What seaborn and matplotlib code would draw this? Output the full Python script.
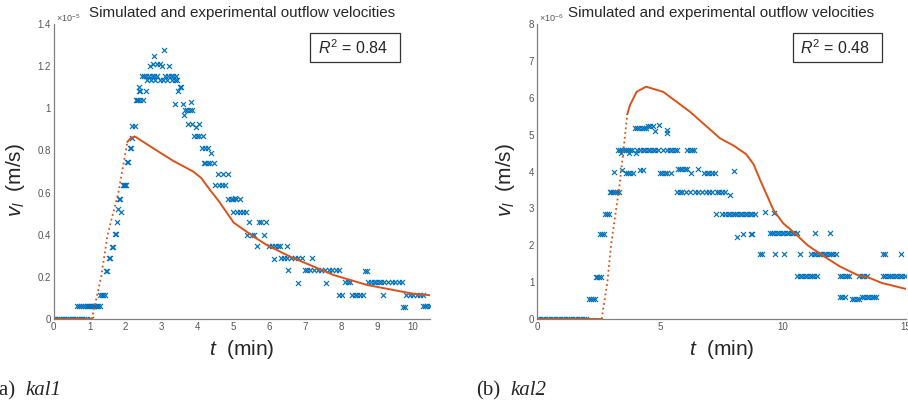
import numpy as np
import pandas as pd
import seaborn as sns
import matplotlib.pyplot as plt
from matplotlib.patches import Rectangle
from matplotlib.ticker import FuncFormatter

# ---- kal1 : measured outflow velocity (x 1e-5 m/s) ----
kal1_t = [0.0, 0.05, 0.1, 0.15, 0.2, 0.25, 0.3, 0.35, 0.4, 0.45, 0.5, 0.55, 0.6, 0.65, 0.7, 0.75, 0.8, 0.85, 0.9, 1.05,
          0.65, 0.7, 0.76, 0.82, 0.88, 0.92, 0.96, 1.0, 1.04, 1.08, 1.12, 1.16, 1.2, 1.24, 1.28,
          1.3, 1.34, 1.38, 1.42, 1.45, 1.48, 1.53, 1.56, 1.62, 1.64, 1.7, 1.73, 1.76, 1.79, 1.86, 1.83, 1.85,
          1.93, 1.96, 1.99, 2.01, 2.03, 2.06, 2.12, 2.14, 2.18, 2.19, 2.25,
          2.28, 2.31, 2.34, 2.4, 2.48, 2.38, 2.41, 2.58, 2.36,
          2.45, 2.5, 2.57, 2.65, 2.73, 2.8, 2.87, 3.1, 3.18, 3.25, 3.32, 3.4,
          2.6, 2.7, 2.82, 2.95, 3.05, 3.15, 3.3, 3.38, 3.43,
          2.68, 3.0, 3.22, 2.75, 2.88, 2.95, 2.8, 3.08,
          3.52, 3.55, 3.47, 3.38, 3.6, 3.82, 3.65, 3.7, 3.78, 3.85, 3.63,
          3.75, 3.85, 4.05, 3.95, 3.9, 3.98, 4.05, 4.15, 4.12, 4.2, 4.3, 4.38,
          4.17, 4.22, 4.3, 4.35, 4.45, 4.58, 4.7, 4.85, 4.5, 4.6, 4.68, 4.78,
          4.85, 4.92, 5.0, 5.08, 5.18, 5.05, 5.0, 5.1, 5.18, 5.26, 5.35,
          5.44, 5.7, 5.76, 5.9, 5.38, 5.52, 5.58, 5.84,
          5.66, 6.0, 6.08, 6.15, 6.25, 6.31, 6.5, 6.12,
          6.32, 6.4, 6.5, 6.6, 6.7, 6.8, 6.9, 7.19,
          6.52, 6.98, 7.05, 7.12, 7.25, 7.35, 7.45, 7.55, 7.65, 7.75, 7.85, 7.93,
          6.8, 7.57, 8.1, 8.18, 8.25,
          7.95, 8.02, 8.3, 8.38, 8.45, 8.52, 8.6, 9.15, 9.8, 9.9, 10.0, 10.1, 10.2, 10.28,
          8.65, 8.72, 8.75, 8.82, 8.9, 8.98, 9.05, 9.12, 9.2, 9.3, 9.4, 9.5, 9.6, 9.7,
          9.72, 9.78, 10.28, 10.34, 10.4, 10.46]
kal1_v = [0.0] * 20 + [0.06] * 15 + \
         [0.115, 0.115, 0.115, 0.115, 0.23, 0.23, 0.29, 0.29, 0.34, 0.34, 0.405, 0.405, 0.46, 0.52, 0.51, 0.57, 0.57,
          0.635, 0.635, 0.635, 0.635, 0.745, 0.745, 0.81, 0.81, 0.86, 0.915, 0.915,
          1.04, 1.04, 1.04, 1.04, 1.04, 1.08, 1.08, 1.08, 1.1] + \
         [1.155] * 12 + [1.135] * 9 + \
         [1.2, 1.2, 1.2, 1.21, 1.21, 1.21, 1.25, 1.275,
          1.1, 1.1, 1.08, 1.02, 1.02, 1.03, 0.99, 0.99, 0.99, 0.99, 0.97,
          0.925, 0.925, 0.925, 0.91, 0.87, 0.87, 0.87, 0.87, 0.81, 0.81, 0.81, 0.79,
          0.74, 0.74, 0.74, 0.74, 0.74, 0.69, 0.69, 0.69, 0.635, 0.635, 0.635, 0.635,
          0.57, 0.57, 0.57, 0.57, 0.57, 0.575, 0.51, 0.51, 0.51, 0.51, 0.51,
          0.46, 0.46, 0.46, 0.46, 0.40, 0.40, 0.40, 0.40,
          0.345, 0.345, 0.345, 0.345, 0.345, 0.345, 0.345, 0.285] + \
         [0.29] * 8 + [0.232] * 12 + \
         [0.17, 0.17, 0.175, 0.175, 0.175] + [0.115] * 14 + \
         [0.23, 0.23] + [0.175] * 12 + [0.055, 0.055, 0.06, 0.06, 0.06, 0.06]

# ---- kal1 : simulated (x 1e-5 m/s) ----
sim1_flat_t = [0.0, 1.06]
sim1_flat_v = [0.0, 0.0]
sim1_rise_t = [1.06, 1.32, 1.5, 1.8, 2.05]
sim1_rise_v = [0.0, 0.2, 0.4, 0.6, 0.84]
sim1_fall_t = [2.05, 2.15, 2.26, 2.77, 3.33, 3.88, 4.1, 4.36, 4.59, 5.01, 5.57, 5.94, 6.59, 7.8, 8.73, 10.0, 10.47]
sim1_fall_v = [0.84, 0.86, 0.866, 0.81, 0.75, 0.70, 0.67, 0.61, 0.56, 0.457, 0.39, 0.35, 0.295, 0.208, 0.161, 0.12, 0.113]

# ---- kal2 : measured outflow velocity (x 1e-6 m/s) ----
kal2_t = [0.0, 0.1, 0.2, 0.3, 0.4, 0.5, 0.6, 0.7, 0.8, 0.9, 1.0, 1.1, 1.2, 1.3, 1.4, 1.5, 1.6, 1.7, 1.8, 1.9, 2.0,
          2.1, 2.18, 2.26, 2.34, 2.38, 2.45, 2.52, 2.6, 2.58, 2.65, 2.72, 2.78, 2.85, 2.92,
          2.95, 3.02, 3.1, 3.18, 3.25, 3.32, 3.14,
          3.3, 3.38, 3.45, 3.55, 3.62, 3.7, 3.8, 3.85, 4.05, 4.2, 4.3, 4.4, 4.5, 4.6, 4.72, 4.8, 4.9, 5.12,
          5.3, 5.4, 5.5, 5.6, 5.7, 6.1, 6.2, 6.3, 6.4,
          3.4, 3.75, 4.02, 3.44, 4.2, 4.3,
          3.62, 3.7, 3.8, 3.9, 5.0, 5.1, 5.2, 5.3, 5.44, 6.27, 6.8, 6.9, 7.0, 7.1, 7.25,
          5.72, 5.8, 5.9, 6.0, 6.1, 6.55, 8.0,
          5.7, 5.8, 5.9, 6.05, 6.2, 6.42, 6.55, 6.7, 6.85, 7.0, 7.1, 7.3, 7.4, 7.5, 7.65, 7.84,
          3.98, 4.05, 4.15, 4.25, 4.35, 4.45, 4.52, 4.6, 4.7, 4.95, 4.8, 5.29, 5.3,
          7.26, 7.5, 7.65, 7.75, 7.85, 7.95, 8.05, 8.15, 8.25, 8.35, 8.45, 8.55, 8.65, 8.75, 8.85, 9.26, 9.63,
          8.15, 8.39, 8.69, 8.75,
          9.47, 9.55, 9.65, 9.75, 9.85, 9.95, 10.05, 10.15, 10.25, 10.35, 10.45, 10.55, 11.3, 11.9,
          9.05, 9.15, 9.67, 10.05, 10.68, 11.15, 11.25, 11.35, 11.45, 11.55, 11.65, 11.75, 11.85, 11.95, 12.05,
          12.15, 14.05, 14.15, 14.8,
          10.58, 10.68, 10.78, 10.88, 10.98, 11.08, 11.18, 11.28, 11.4, 12.3, 12.4, 12.5, 12.6, 12.7,
          13.1, 13.2, 13.3, 13.4, 14.05, 14.15, 14.25, 14.35, 14.45, 14.55, 14.65, 14.75, 14.85, 14.95,
          12.3, 12.4, 12.5, 13.2, 13.3, 13.4, 13.5, 13.6, 13.7, 13.8, 12.8, 12.9, 13.0, 13.1]
kal2_v = [0.0] * 21 + [0.55] * 4 + [1.15] * 4 + [2.3] * 3 + [2.85] * 3 + [3.45] * 6 + [3.98] + \
         [4.58] * 27 + [4.5, 4.5, 4.5, 4.03, 4.03, 4.03] + [3.95] * 15 + \
         [4.07] * 6 + [4.02] + [3.45] * 15 + [3.36] + \
         [5.17] * 6 + [5.23, 5.23, 5.23, 5.25, 5.1, 5.12, 5.05] + \
         [2.85] * 15 + [2.9, 2.88] + [2.22, 2.3, 2.3, 2.3] + \
         [2.32] * 14 + [1.75] * 19 + [1.16] * 28 + [0.6] * 10 + [0.54] * 4

# ---- kal2 : simulated (x 1e-6 m/s) ----
sim2_flat_t = [0.0, 2.63]
sim2_flat_v = [0.0, 0.0]
sim2_rise_t = [2.63, 2.86, 3.01, 3.2, 3.35, 3.5, 3.67]
sim2_rise_v = [0.0, 1.0, 2.0, 2.9, 3.6, 4.5, 5.55]
sim2_fall_t = [3.67, 3.78, 4.05, 4.43, 5.13, 6.22, 7.44, 8.0, 8.5, 8.8, 9.07, 9.61, 10.0, 10.49, 11.0, 11.64,
               12.3, 13.0, 13.5, 14.0, 15.03]
sim2_fall_v = [5.55, 5.8, 6.16, 6.3, 6.16, 5.62, 4.9, 4.7, 4.47, 4.2, 3.77, 2.96, 2.6, 2.32, 2.0, 1.71,
               1.43, 1.2, 1.12, 0.98, 0.81]

sns.set_style('white')
plt.rcParams['font.family'] = ['Liberation Sans', 'DejaVu Sans']
plt.rcParams['mathtext.fontset'] = 'custom'
plt.rcParams['mathtext.rm'] = 'Liberation Sans'
plt.rcParams['mathtext.it'] = 'Liberation Sans:italic'

blue = '#0072BD'
orange = '#D95319'
grey = '#808080'

fig = plt.figure(figsize=(9.08, 4.04), dpi=100)
ax1 = fig.add_axes([53.7 / 908, 85 / 404, 376.3 / 908, 295 / 404])
ax2 = fig.add_axes([537 / 908, 85 / 404, 369 / 908, 295 / 404])

panels = [
    (ax1, kal1_t, kal1_v, sim1_flat_t, sim1_flat_v, sim1_rise_t, sim1_rise_v, sim1_fall_t, sim1_fall_v,
     (0, 10.47), (0, 1.4), np.arange(0, 11, 1), np.arange(0, 1.41, 0.2), '5', '0.84', -0.071),
    (ax2, kal2_t, kal2_v, sim2_flat_t, sim2_flat_v, sim2_rise_t, sim2_rise_v, sim2_fall_t, sim2_fall_v,
     (0, 15), (0, 8), [0, 5, 10, 15], np.arange(0, 9, 1), '6', '0.48', -0.054),
]

for (ax, mt, mv, ft, fv, rt, rv, st, sv, xl, yl, xt, yt, expo, r2, ylx) in panels:
    meas = pd.DataFrame({'t': mt, 'v': mv})
    sns.scatterplot(data=meas, x='t', y='v', ax=ax, marker='x', color=blue, s=13,
                    linewidth=0.85, clip_on=True, zorder=2)
    sns.lineplot(x=ft, y=fv, ax=ax, color=orange, lw=1.4, sort=False, estimator=None, zorder=3)
    sns.lineplot(x=rt, y=rv, ax=ax, color=orange, lw=1.3, ls=':', sort=False, estimator=None, zorder=3)
    sns.lineplot(x=st, y=sv, ax=ax, color=orange, lw=1.4, sort=False, estimator=None, zorder=3)

    ax.set_xlim(*xl)
    ax.set_ylim(*yl)
    ax.set_xticks(xt)
    ax.set_yticks(yt)
    ax.xaxis.set_major_formatter(FuncFormatter(lambda x, p: '%g' % round(x, 2)))
    ax.yaxis.set_major_formatter(FuncFormatter(lambda x, p: '%g' % round(x, 2)))
    ax.tick_params(direction='in', length=3, width=0.7, labelsize=7, colors='#555555', pad=2)
    for side in ['top', 'right']:
        ax.spines[side].set_visible(False)
    for side in ['left', 'bottom']:
        ax.spines[side].set_color(grey)
        ax.spines[side].set_linewidth(0.9)

    ax.set_title('Simulated and experimental outflow velocities', fontsize=10.9, pad=5)
    ax.set_xlabel('$t$  (min)', fontsize=15)
    ax.set_ylabel('$v_l$  (m/s)', fontsize=15)
    ax.xaxis.set_label_coords(0.5, -0.064)
    ax.yaxis.set_label_coords(ylx, 0.47)
    ax.text(0.005, 1.0, r'$\times10^{-%s}$' % expo, transform=ax.transAxes, fontsize=6.5,
            color='#555555', va='bottom', ha='left')

    bx0 = 0.681 if ax is ax1 else 0.694
    ax.add_patch(Rectangle((bx0, 0.871), 0.24, 0.098, transform=ax.transAxes, fill=True,
                           facecolor='white', edgecolor='#333333', lw=0.9, zorder=5, clip_on=False))
    ax.text(bx0 + 0.115, 0.92, '$R^2$ = ' + r2, transform=ax.transAxes, fontsize=11.5,
            ha='center', va='center', zorder=6)
    ax.set_facecolor('white')

serif = ['Liberation Serif', 'DejaVu Serif']
fig.text(-8.3 / 908, 0.022, '(a)', fontsize=15, family=serif, va='baseline')
fig.text(25.7 / 908, 0.022, 'kal1', fontsize=15, family=serif, style='italic', va='baseline')
fig.text(476 / 908, 0.022, '(b)', fontsize=15, family=serif, va='baseline')
fig.text(510 / 908, 0.022, 'kal2', fontsize=15, family=serif, style='italic', va='baseline')

fig.savefig('out.png', dpi=100)
